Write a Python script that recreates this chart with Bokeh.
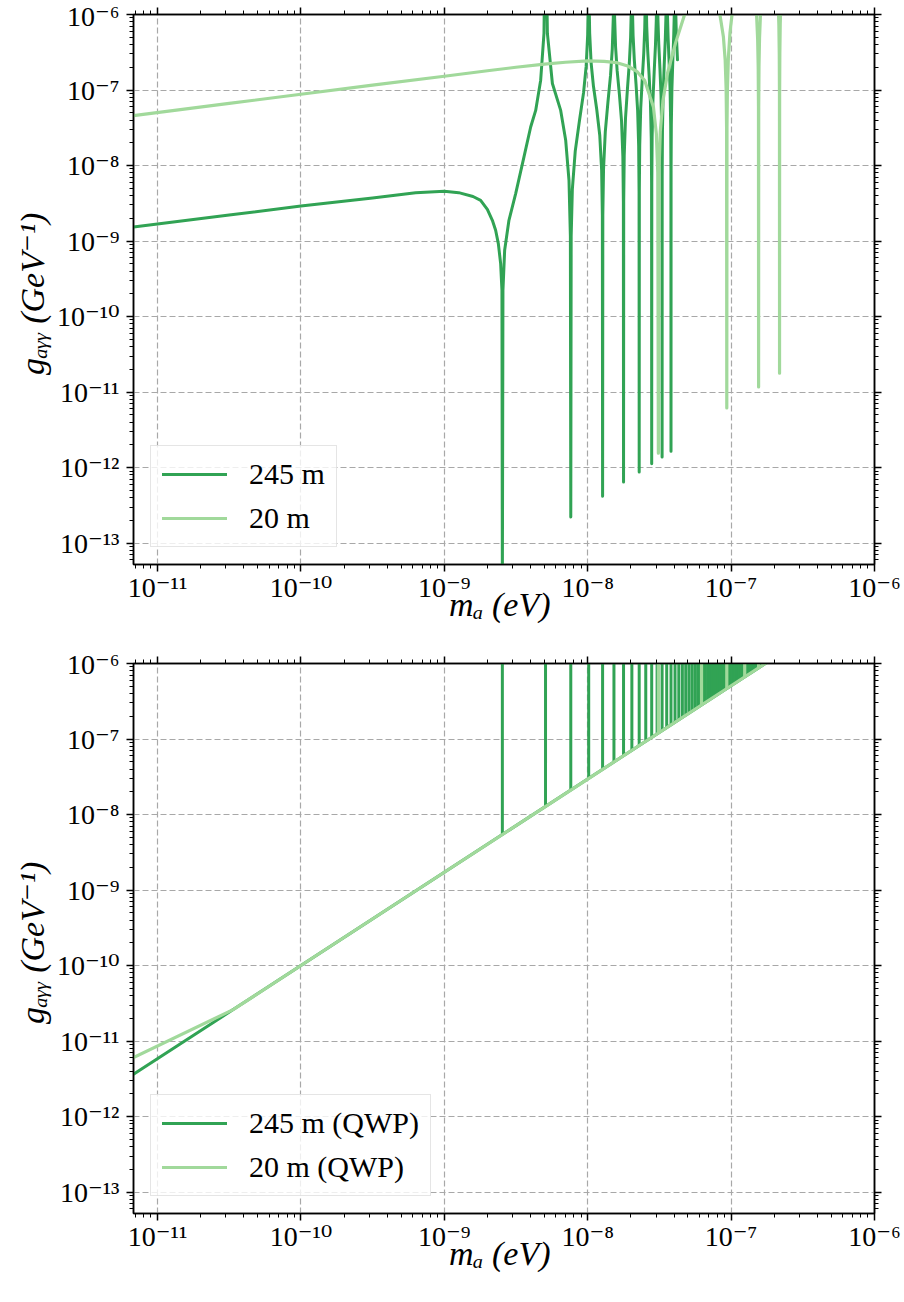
import math
from bokeh.plotting import figure
from bokeh.models import (Range1d, FixedTicker, LogAxis, CustomJSTickFormatter,
                          Legend, LegendItem)
from bokeh.core.properties import value
from bokeh.layouts import column
from bokeh.embed import file_html
from bokeh.resources import INLINE

DARK = "#31a354"
LIGHT = "#a1d99b"
SERIF = "Liberation Serif"
TEXT_FONT = "Liberation Serif, DejaVu Serif, DejaVu Sans"
NEV = 1e-9  # masses below are listed in neV

# ---------------- data ----------------
series_top = ["245 m", "20 m"]
series_bottom = ["245 m (QWP)", "20 m (QWP)"]
x_title = "mₐ  (eV)"
y_title = "gₐᵧᵧ  (GeV⁻¹)"

# upper panel, 245 m
mass_245m = [0.0068, 0.0316, 0.1, 0.316, 0.631, 1.0, 1.26, 1.585, 1.792, 1.996,
             2.163, 2.28, 2.381, 2.471, 2.523, 2.54, 2.564, 2.635, 2.823, 3.145,
             3.594, 4.002, 4.337, 4.699, 4.955, 5.08, 5.234, 5.672, 6.48, 7.023,
             7.404, 7.5715, 7.62,
             7.6685, 7.814, 8.186, 8.752, 9.3515, 9.756, 9.998, 10.1115, 10.16,
             10.2085, 10.3217, 10.564, 10.9685, 11.568, 12.134, 12.506, 12.6515, 12.7,
             12.7485, 12.894, 13.266, 13.832, 14.4315, 14.836, 15.0783, 15.1915, 15.24,
             15.2885, 15.4017, 15.644, 16.0485, 16.648, 17.214, 17.586, 17.7315, 17.78,
             17.8285, 17.974, 18.346, 18.912, 19.5115, 19.916, 20.1583, 20.2715, 20.32,
             20.3685, 20.4817, 20.724, 21.1285, 21.728, 22.294, 22.666, 22.8115, 22.86,
             22.9085, 23.054, 23.426, 23.992, 24.5915, 24.996, 25.2383, 25.3515, 25.4,
             25.4485, 25.5617, 25.804, 26.2085, 26.808, 27.374, 27.746, 27.8915, 27.94,
             27.9885, 28.134, 28.506, 29.072, 29.6715, 30.076, 30.3183, 30.4315, 30.48,
             30.5285, 30.6417, 30.884, 31.2885, 31.888, 32.454, 32.826, 32.9715, 33.02,
             33.0685, 33.214, 33.586, 34.152, 34.7515, 35.156, 35.3983, 35.5115, 35.56,
             35.6085, 35.7217, 35.964, 36.3685, 36.968, 37.534, 37.906, 38.0515, 38.1,
             38.1485, 38.294, 38.666, 39.232, 39.8315, 40.236, 40.4783, 40.5915, 40.64,
             40.6885, 40.8017, 41.044, 41.4485, 42.27]
g_245m = [1.53e-9, 2.21e-9, 2.91e-9, 3.72e-9, 4.37e-9, 4.55e-9, 4.37e-9, 3.89e-9, 3.46e-9, 2.63e-9,
          1.88e-9, 1.39e-9, 9.23e-10, 5.01e-10, 2.22e-10, 2.5e-14, 2.24e-10, 7.53e-10, 1.88e-9, 4.25e-9,
          1.30e-8, 3.24e-8, 5.37e-8, 1.35e-7, 5.62e-7, 3.16e-5, 5.62e-7, 1.22e-7, 5.37e-8, 2.16e-8,
          6.37e-9, 1.15e-9, 2.21e-13,
          1.17e-9, 4.83e-9, 1.55e-8, 3.88e-8, 9.16e-8, 2.07e-7, 5.42e-7, 1.84e-6, 3.16e-5,
          1.86e-6, 5.64e-7, 2.28e-7, 1.12e-7, 5.48e-8, 2.52e-8, 8.65e-9, 2.18e-9, 4.16e-13,
          2.20e-9, 8.97e-9, 2.82e-8, 6.84e-8, 1.57e-7, 3.48e-7, 9.02e-7, 3.04e-6, 3.16e-5,
          3.07e-6, 9.27e-7, 3.71e-7, 1.79e-7, 8.61e-8, 3.89e-8, 1.32e-8, 3.32e-9, 6.43e-13,
          3.34e-9, 1.36e-8, 4.21e-8, 1.01e-7, 2.28e-7, 5.00e-7, 1.29e-6, 4.36e-6, 3.16e-5,
          4.38e-6, 1.32e-6, 5.26e-7, 2.52e-7, 1.20e-7, 5.36e-8, 1.81e-8, 4.54e-9, 8.71e-13,
          4.56e-9, 1.85e-8, 5.70e-8, 1.36e-7, 3.03e-7, 6.64e-7, 1.71e-6, 5.74e-6, 3.16e-5,
          5.77e-6, 1.73e-6, 6.90e-7, 3.29e-7, 1.56e-7, 6.92e-8, 2.32e-8, 5.82e-9, 1.12e-12,
          5.85e-9, 2.37e-8, 7.28e-8, 1.72e-7, 3.84e-7, 8.34e-7, 2.14e-6, 7.19e-6, 3.16e-5,
          7.23e-6, 2.17e-6, 8.61e-7, 4.09e-7, 1.93e-7, 8.55e-8, 2.86e-8, 7.16e-9, 1.38e-12,
          7.19e-9, 2.90e-8, 8.91e-8, 2.10e-7, 4.67e-7, 1.01e-6, 2.60e-6, 8.71e-6, 3.16e-5,
          8.75e-6, 2.62e-6, 1.04e-6, 4.93e-7, 2.32e-7, 1.02e-7, 3.42e-8, 8.55e-9, 1.64e-12,
          8.59e-9, 3.47e-8, 1.06e-7, 2.49e-7, 5.52e-7, 1.20e-6, 3.07e-6, 1.03e-5, 3.16e-5,
          1.03e-5, 3.10e-6, 1.23e-6, 5.81e-7, 2.51e-7]

# upper panel, 20 m
mass_20m = [0.0068, 0.0316, 0.1, 0.316, 1.0, 2.0, 3.16, 5.0, 7.0, 10.0,
            13.0, 16.0, 19.0, 22.0, 25.0, 28.724, 30.11, 30.803, 31.1,
            31.397, 32.09, 33.476, 36.05, 41.0, 46.94, 52.3, 62.2,
            72.1, 77.46, 83.4, 88.35, 90.924, 92.31, 93.003, 93.3,
            93.597, 94.29, 95.676, 98.25, 103.2, 109.14, 124.4,
            139.66, 145.6, 150.55, 153.124, 154.51, 155.203, 155.5,
            155.797, 156.49, 157.876, 160.45, 165.4, 186.6,
            207.8, 212.75, 215.324, 216.71, 217.403, 217.7,
            217.997, 218.69, 220.076, 222.65, 227.6]
g_20m = [4.59e-8, 6.64e-8, 8.79e-8, 1.16e-7, 1.52e-7, 1.80e-7, 2.00e-7, 2.20e-7, 2.33e-7, 2.43e-7,
         2.40e-7, 2.30e-7, 2.08e-7, 1.77e-7, 1.33e-7, 5.97e-8, 2.63e-8, 8.11e-9, 1.55e-12,
         8.30e-9, 2.84e-8, 7.23e-8, 1.68e-7, 4.21e-7, 9.38e-7, 1.91e-6, 1e-4,
         2.84e-6, 1.75e-6, 1.02e-6, 5.09e-7, 2.49e-7, 1.05e-7, 3.19e-8, 6.17e-12,
         3.22e-8, 1.08e-7, 2.65e-7, 5.81e-7, 1.32e-6, 2.67e-6, 1e-4,
         3.63e-6, 2.03e-6, 9.86e-7, 4.76e-7, 2.00e-7, 6.03e-8, 1.17e-11,
         6.05e-8, 2.03e-7, 4.94e-7, 1.07e-6, 2.37e-6, 1e-4,
         3.15e-6, 1.52e-6, 7.26e-7, 3.04e-7, 9.14e-8, 1.78e-11,
         9.18e-8, 3.08e-7, 7.46e-7, 1.60e-6, 3.52e-6]

# lower panel (QWP): smooth floor of each curve
qwp_mass = [0.0068, 0.0337, 0.1, 1.0, 10.0, 100.0, 300.0]
qwp_g_245m = [3.63e-12, 2.61e-11, 1.0e-10, 1.72e-9, 2.95e-8, 5.07e-7, 1.97e-6]
qwp_g_20m = [6.03e-12, 2.61e-11, 1.0e-10, 1.72e-9, 2.95e-8, 5.07e-7, 1.97e-6]

# lower panel: resonance spikes (mass, floor value at the spike)
spike_mass_245m = [2.54, 5.08, 7.62, 10.16, 12.7, 15.24, 17.78, 20.32, 22.86, 25.4,
                   27.94, 30.48, 33.02, 35.56, 38.1, 40.64, 43.18, 45.72, 48.26, 50.8,
                   53.34, 55.88, 58.42, 60.96, 63.5, 66.04, 68.58, 71.12, 73.66, 76.2,
                   78.74, 81.28, 83.82, 86.36, 88.9, 91.44, 93.98, 96.52, 99.06, 101.6,
                   104.14, 106.68, 109.22, 111.76, 114.3, 116.84, 119.38, 121.92, 124.46, 127.0,
                   129.54, 132.08, 134.62, 137.16, 139.7, 142.24, 144.78, 147.32, 149.86, 152.4,
                   154.94, 157.48, 160.02, 162.56, 165.1, 167.64, 170.18, 172.72]
spike_base_245m = [5.43e-9, 1.28e-8, 2.11e-8, 3.01e-8, 3.96e-8, 4.97e-8, 6.01e-8, 7.09e-8, 8.19e-8, 9.33e-8,
                   1.05e-7, 1.17e-7, 1.29e-7, 1.41e-7, 1.54e-7, 1.67e-7, 1.80e-7, 1.93e-7, 2.06e-7, 2.20e-7,
                   2.33e-7, 2.47e-7, 2.61e-7, 2.75e-7, 2.89e-7, 3.04e-7, 3.18e-7, 3.33e-7, 3.48e-7, 3.62e-7,
                   3.77e-7, 3.93e-7, 4.08e-7, 4.23e-7, 4.38e-7, 4.54e-7, 4.70e-7, 4.85e-7, 5.01e-7, 5.17e-7,
                   5.33e-7, 5.49e-7, 5.65e-7, 5.82e-7, 5.98e-7, 6.14e-7, 6.31e-7, 6.47e-7, 6.64e-7, 6.81e-7,
                   6.98e-7, 7.15e-7, 7.32e-7, 7.49e-7, 7.66e-7, 7.83e-7, 8.00e-7, 8.17e-7, 8.35e-7, 8.52e-7,
                   8.70e-7, 8.88e-7, 9.06e-7, 9.24e-7, 9.42e-7, 9.59e-7, 9.78e-7, 9.95e-7]
spike_mass_20m = [31.1, 62.2, 93.3, 124.4, 155.5]
spike_base_20m = [1.20e-7, 2.82e-7, 4.65e-7, 6.64e-7, 8.74e-7]
spike_top = 1e-5

# axes
x_ticks = [1e-11, 1e-10, 1e-9, 1e-8, 1e-7, 1e-6]
x_tick_labels = ["10⁻¹¹", "10⁻¹⁰", "10⁻⁹", "10⁻⁸", "10⁻⁷", "10⁻⁶"]
y_ticks = [1e-13, 1e-12, 1e-11, 1e-10, 1e-9, 1e-8, 1e-7, 1e-6]
y_tick_labels = ["10⁻¹³", "10⁻¹²", "10⁻¹¹", "10⁻¹⁰", "10⁻⁹", "10⁻⁸", "10⁻⁷", "10⁻⁶"]
X_MIN, X_MAX = 6.8e-12, 1e-6
Y_MIN, Y_MAX = 5.2e-14, 1e-6
FRAME_W, FRAME_H = 741, 550

x_minor = [k * 10.0 ** e for e in range(-12, -6) for k in range(2, 10) if X_MIN <= k * 10.0 ** e <= X_MAX]
y_minor = [k * 10.0 ** e for e in range(-14, -6) for k in range(2, 10) if Y_MIN <= k * 10.0 ** e <= Y_MAX]

FMT_CODE = """
let best = 0, bd = Infinity;
for (let i = 0; i < tvals.length; i++) {
  const d = Math.abs(Math.log10(tick) - Math.log10(tvals[i]));
  if (d < bd) { bd = d; best = i; }
}
return tlabels[best];
"""


def style_axis(ax, ticker, labels=None, title=None, label_standoff=6, title_standoff=4):
    ax.ticker = ticker
    ax.axis_line_color = "black"
    ax.axis_line_width = 1.5
    ax.major_tick_line_color = "black"
    ax.major_tick_line_width = 1.5
    ax.minor_tick_line_color = "black"
    ax.minor_tick_line_width = 1.0
    ax.major_tick_in = 0
    ax.major_tick_out = 7
    ax.minor_tick_in = 0
    ax.minor_tick_out = 4
    if labels is None:
        ax.formatter = CustomJSTickFormatter(code="return '';")
        ax.major_label_standoff = 0
        ax.major_label_text_font_size = "0px"
    else:
        ax.formatter = CustomJSTickFormatter(args=dict(tvals=labels[0], tlabels=labels[1]), code=FMT_CODE)
        ax.major_label_text_font = TEXT_FONT
        ax.major_label_text_font_size = "28px"
        ax.major_label_text_color = "black"
        ax.major_label_standoff = label_standoff
    if title is not None:
        ax.axis_label = title
        ax.axis_label_text_font = TEXT_FONT
        ax.axis_label_text_font_size = "34px"
        ax.axis_label_text_font_style = "italic"
        ax.axis_label_text_color = "black"
        ax.axis_label_standoff = title_standoff


def make_fig(top_border):
    p = figure(x_axis_type="log", y_axis_type="log",
               x_range=Range1d(X_MIN, X_MAX), y_range=Range1d(Y_MIN, Y_MAX),
               frame_width=FRAME_W, frame_height=FRAME_H,
               min_border_left=133, min_border_right=28,
               min_border_top=top_border, min_border_bottom=84,
               output_backend="svg", toolbar_location=None,
               background_fill_color="white", border_fill_color="white")
    p.outline_line_color = "black"
    p.outline_line_width = 1.5
    xt = FixedTicker(ticks=x_ticks, minor_ticks=x_minor)
    yt = FixedTicker(ticks=y_ticks, minor_ticks=y_minor)
    style_axis(p.xaxis[0], xt, (x_ticks, x_tick_labels), x_title, label_standoff=0, title_standoff=-20)
    style_axis(p.yaxis[0], yt, (y_ticks, y_tick_labels), y_title, label_standoff=7, title_standoff=3)
    top_ax = LogAxis()
    right_ax = LogAxis()
    style_axis(top_ax, xt)
    style_axis(right_ax, yt)
    p.add_layout(top_ax, "above")
    p.add_layout(right_ax, "right")
    for g, t in ((p.xgrid[0], xt), (p.ygrid[0], yt)):
        g.ticker = t
        g.grid_line_color = "#a8a8a8"
        g.grid_line_dash = "6 3"
        g.grid_line_width = 1.2
    return p


def add_legend(p, items):
    leg = Legend(items=[LegendItem(label=value(t), renderers=[r]) for t, r in items],
                 location="bottom_left", margin=17, padding=11, spacing=10,
                 glyph_width=65, glyph_height=30, label_height=30, label_standoff=22,
                 label_text_font=SERIF, label_text_font_size="30px", label_text_color="black",
                 border_line_color="#cccccc", border_line_width=1.5,
                 background_fill_color="white", background_fill_alpha=0.8)
    p.add_layout(leg)


# ---------------- upper panel ----------------
p1 = make_fig(14)
r_dark = p1.line([m * NEV for m in mass_245m], g_245m, line_color=DARK, line_width=3.0,
                 line_join="round", line_cap="round")
r_light = p1.line([m * NEV for m in mass_20m], g_20m, line_color=LIGHT, line_width=3.2,
                  line_join="round", line_cap="round")
add_legend(p1, [(series_top[0], r_dark), (series_top[1], r_light)])

# ---------------- lower panel ----------------
p2 = make_fig(15)
q_dark = p2.line([m * NEV for m in qwp_mass], qwp_g_245m, line_color=DARK, line_width=3.0,
                 line_join="round", line_cap="round")
p2.segment(x0=[m * NEV for m in spike_mass_245m], y0=spike_base_245m,
           x1=[m * NEV for m in spike_mass_245m], y1=[spike_top] * len(spike_mass_245m),
           line_color=DARK, line_width=3.0)
q_light = p2.line([m * NEV for m in qwp_mass], qwp_g_20m, line_color=LIGHT, line_width=3.2,
                  line_join="round", line_cap="round")
p2.segment(x0=[m * NEV for m in spike_mass_20m], y0=spike_base_20m,
           x1=[m * NEV for m in spike_mass_20m], y1=[spike_top] * len(spike_mass_20m),
           line_color=LIGHT, line_width=3.2)
add_legend(p2, [(series_bottom[0], q_dark), (series_bottom[1], q_light)])

layout = column(p1, p2)
open("out.html", "w").write(file_html(layout, INLINE))
